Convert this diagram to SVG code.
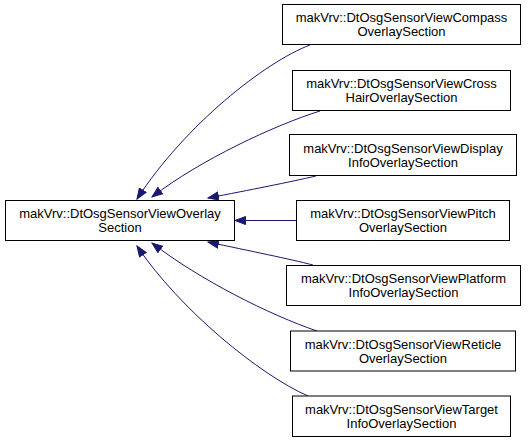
<svg xmlns="http://www.w3.org/2000/svg" width="528" height="443" viewBox="0 0 528 443">
<style>
.box{fill:#ffffff;stroke:#000000;stroke-width:1}
.lbl{font-family:"Liberation Sans",Arial,Helvetica,sans-serif;font-size:13px;fill:#000000;text-anchor:middle}
.edge{fill:none;stroke:#191970;stroke-width:1}
</style>
<defs>
<marker id="arr" markerUnits="userSpaceOnUse" markerWidth="14" markerHeight="12" refX="11" refY="4.5" orient="auto">
<path d="M0.5,0.5 L11,4.5 L0.5,8.5 z" fill="#191970" stroke="#191970" stroke-width="1"/>
</marker>
</defs>
<rect width="528" height="443" fill="#ffffff"/>
<g id="edges">
<path class="edge" d="M310,45 C265,62 185,125 137,199" marker-end="url(#arr)"/>
<path class="edge" d="M320,111 C275,125 200,160 152,197" marker-end="url(#arr)"/>
<path class="edge" d="M316,176 C290,182 250,190 208,198" marker-end="url(#arr)"/>
<path class="edge" d="M296,220.5 L235,220.5" marker-end="url(#arr)"/>
<path class="edge" d="M313,265 C290,259 250,251 208,242" marker-end="url(#arr)"/>
<path class="edge" d="M317,331 C270,315 200,280 152,243" marker-end="url(#arr)"/>
<path class="edge" d="M308,396 C260,375 180,310 137,246" marker-end="url(#arr)"/>
</g>
<g id="node-base">
<rect class="box" x="5.5" y="200.5" width="229" height="40"/>
<text class="lbl" x="120" y="218">makVrv::DtOsgSensorViewOverlay</text>
<text class="lbl" x="120" y="232">Section</text>
</g>
<g id="node-compass">
<rect class="box" x="282.5" y="4.5" width="238" height="40"/>
<text class="lbl" x="401.5" y="22">makVrv::DtOsgSensorViewCompass</text>
<text class="lbl" x="401.5" y="36">OverlaySection</text>
</g>
<g id="node-crosshair">
<rect class="box" x="292.5" y="70.5" width="218" height="40"/>
<text class="lbl" x="401.5" y="88">makVrv::DtOsgSensorViewCross</text>
<text class="lbl" x="401.5" y="102">HairOverlaySection</text>
</g>
<g id="node-display">
<rect class="box" x="289.5" y="134.5" width="227" height="41"/>
<text class="lbl" x="403" y="152.5">makVrv::DtOsgSensorViewDisplay</text>
<text class="lbl" x="403" y="166.5">InfoOverlaySection</text>
</g>
<g id="node-pitch">
<rect class="box" x="296.5" y="200.5" width="213" height="40"/>
<text class="lbl" x="403" y="218">makVrv::DtOsgSensorViewPitch</text>
<text class="lbl" x="403" y="232">OverlaySection</text>
</g>
<g id="node-platform">
<rect class="box" x="286.5" y="265.5" width="234" height="40"/>
<text class="lbl" x="403.5" y="283">makVrv::DtOsgSensorViewPlatform</text>
<text class="lbl" x="403.5" y="297">InfoOverlaySection</text>
</g>
<g id="node-reticle">
<rect class="box" x="290.5" y="331" width="225" height="40"/>
<text class="lbl" x="403" y="348.5">makVrv::DtOsgSensorViewReticle</text>
<text class="lbl" x="403" y="362.5">OverlaySection</text>
</g>
<g id="node-target">
<rect class="box" x="292.5" y="396" width="218" height="40.5"/>
<text class="lbl" x="401.5" y="413.5">makVrv::DtOsgSensorViewTarget</text>
<text class="lbl" x="401.5" y="427.5">InfoOverlaySection</text>
</g>
</svg>
